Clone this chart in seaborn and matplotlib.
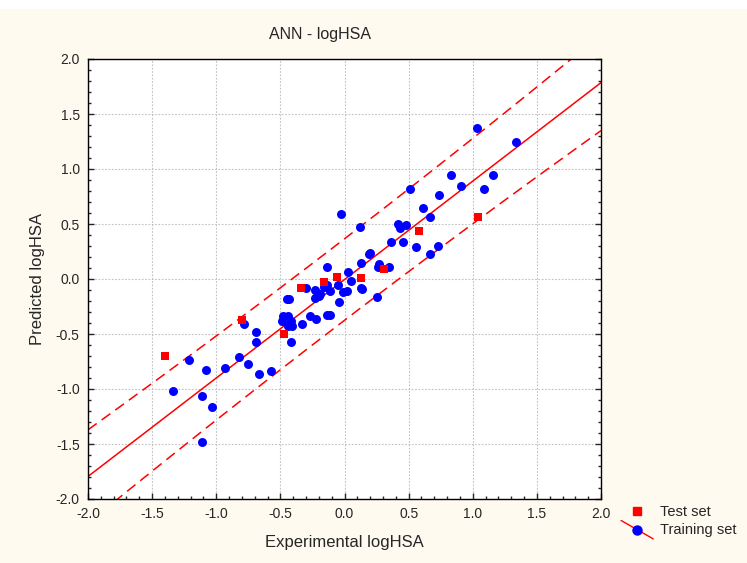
import numpy as np
import pandas as pd
import matplotlib
matplotlib.use("Agg")
import matplotlib.pyplot as plt
import seaborn as sns
from matplotlib.lines import Line2D
from matplotlib.patches import Rectangle
from matplotlib.legend_handler import HandlerBase
from matplotlib.ticker import MultipleLocator, FormatStrFormatter

# ---- data ----
test_x = [-1.40, -0.80, -0.47, -0.34, -0.16, -0.06, 0.13, 0.31, 0.58, 1.04]
test_y = [-0.70, -0.37, -0.50, -0.08, -0.03, 0.015, 0.006, 0.09, 0.44, 0.56]

train_x = [-1.34, -1.21, -1.11, -1.11, -1.08, -1.03, -0.93, -0.82, -0.78, -0.75,
           -0.69, -0.69, -0.67, -0.57, -0.49, -0.48, -0.45, -0.44, -0.44, -0.43,
           -0.42, -0.42, -0.41, -0.33, -0.30, -0.27, -0.23, -0.23, -0.22, -0.20,
           -0.19, -0.16, -0.14, -0.14, -0.14, -0.11, -0.11, -0.05, -0.04, -0.03,
           -0.01, 0.02, 0.03, 0.05, 0.12, 0.13, 0.13, 0.14, 0.19, 0.20,
           0.25, 0.26, 0.27, 0.35, 0.36, 0.42, 0.43, 0.46, 0.48, 0.51,
           0.56, 0.61, 0.67, 0.67, 0.73, 0.74, 0.83, 0.91, 1.03, 1.09,
           1.16, 1.34]
train_y = [-1.02, -0.74, -1.06, -1.48, -0.83, -1.16, -0.81, -0.71, -0.41, -0.77,
           -0.48, -0.57, -0.86, -0.84, -0.38, -0.34, -0.18, -0.34, -0.43, -0.18,
           -0.38, -0.57, -0.43, -0.41, -0.08, -0.34, -0.10, -0.17, -0.36, -0.15,
           -0.14, -0.07, -0.05, 0.11, -0.33, -0.11, -0.33, -0.05, -0.21, 0.59,
           -0.12, -0.11, 0.06, -0.02, 0.47, 0.15, -0.08, -0.09, 0.23, 0.24,
           -0.16, 0.11, 0.14, 0.11, 0.34, 0.50, 0.46, 0.34, 0.49, 0.82,
           0.29, 0.645, 0.56, 0.23, 0.30, 0.76, 0.95, 0.85, 1.37, 0.82,
           0.95, 1.25]

# regression line and prediction band
fit_slope = 0.895
fit_intercept = -0.005
band_center = -0.1
band_min = 0.37
band_curv = 0.015

ticks = [-2.0, -1.5, -1.0, -0.5, 0.0, 0.5, 1.0, 1.5, 2.0]

df = pd.DataFrame({
    "exp": train_x + test_x,
    "pred": train_y + test_y,
    "set": ["Training set"] * len(train_x) + ["Test set"] * len(test_x),
})

sns.set_style("ticks")
plt.rcParams["font.family"] = ["Liberation Sans", "DejaVu Sans"]

fig = plt.figure(figsize=(7.47, 5.63), dpi=100, facecolor="#fffaf0")
fig.patches.append(Rectangle((0, 1 - 9 / 563), 1, 9 / 563, transform=fig.transFigure,
                             facecolor="white", edgecolor="none", zorder=-1))
ax = fig.add_axes([88 / 747, 1 - 499 / 563, (601 - 88) / 747, (499 - 59) / 563])
ax.set_facecolor("white")

xs = np.linspace(ticks[0], ticks[-1], 200)
yfit = fit_slope * xs + fit_intercept
half = band_min + band_curv * (xs - band_center) ** 2
ax.plot(xs, yfit, color="red", lw=1.1, zorder=2)
ax.plot(xs, yfit + half, color="red", lw=1.1, ls=(0, (7, 4)), zorder=2)
ax.plot(xs, yfit - half, color="red", lw=1.1, ls=(0, (7, 4)), zorder=2)

sns.scatterplot(data=df[df["set"] == "Training set"], x="exp", y="pred", ax=ax,
                color="#0000ff", marker="o", s=42, edgecolor="#0000ff", linewidth=0,
                zorder=3, legend=False)
sns.scatterplot(data=df[df["set"] == "Test set"], x="exp", y="pred", ax=ax,
                color="#ff0000", marker="s", s=36, edgecolor="#ff0000", linewidth=0,
                zorder=4, legend=False)

ax.set_xlim(ticks[0], ticks[-1])
ax.set_ylim(ticks[0], ticks[-1])
ax.set_xticks(ticks)
ax.set_yticks(ticks)
ax.xaxis.set_major_formatter(FormatStrFormatter("%.1f"))
ax.yaxis.set_major_formatter(FormatStrFormatter("%.1f"))
ax.xaxis.set_minor_locator(MultipleLocator(0.1))
ax.yaxis.set_minor_locator(MultipleLocator(0.1))
ax.tick_params(which="major", direction="in", length=4, width=1, labelsize=10,
               top=False, right=True, pad=6)
ax.tick_params(which="minor", direction="in", length=2, width=1, top=False, right=True)
ax.grid(True, which="major", color="#c0c0c0", ls=(0, (1.5, 1.5)), lw=0.8)
for s in ax.spines.values():
    s.set_color("black")
    s.set_linewidth(1)

ax.set_xlabel("Experimental logHSA", fontsize=12, labelpad=10)
ax.set_ylabel("Predicted logHSA", fontsize=12, labelpad=8)
fig.text(320 / 747, 1 - 35 / 563, "ANN - logHSA", fontsize=11.5, ha="center", va="center")


class DiagLineMarker(HandlerBase):
    def create_artists(self, legend, orig_handle, xdescent, ydescent, width, height,
                       fontsize, trans):
        ln = Line2D([0, width], [height * 1.3, -height * 0.5], color="red", lw=1,
                    transform=trans)
        mk = Line2D([width / 2], [height * 0.4], marker="o", ls="none",
                    markerfacecolor="#0000ff", markeredgecolor="#0000ff",
                    markersize=6.5, transform=trans)
        return [ln, mk]


test_handle = Line2D([], [], color="red", marker="s", ls="none", markersize=6)
train_handle = Line2D([], [])
fig.legend([test_handle, train_handle], ["Test set", "Training set"], loc="upper left",
           bbox_to_anchor=(608 / 747, 1 - 492 / 563), frameon=False, fontsize=10.5,
           handlelength=2.2, handletextpad=0.5, labelspacing=0.25,
           handler_map={train_handle: DiagLineMarker()})

fig.savefig("out.png", dpi=100, facecolor=fig.get_facecolor())
